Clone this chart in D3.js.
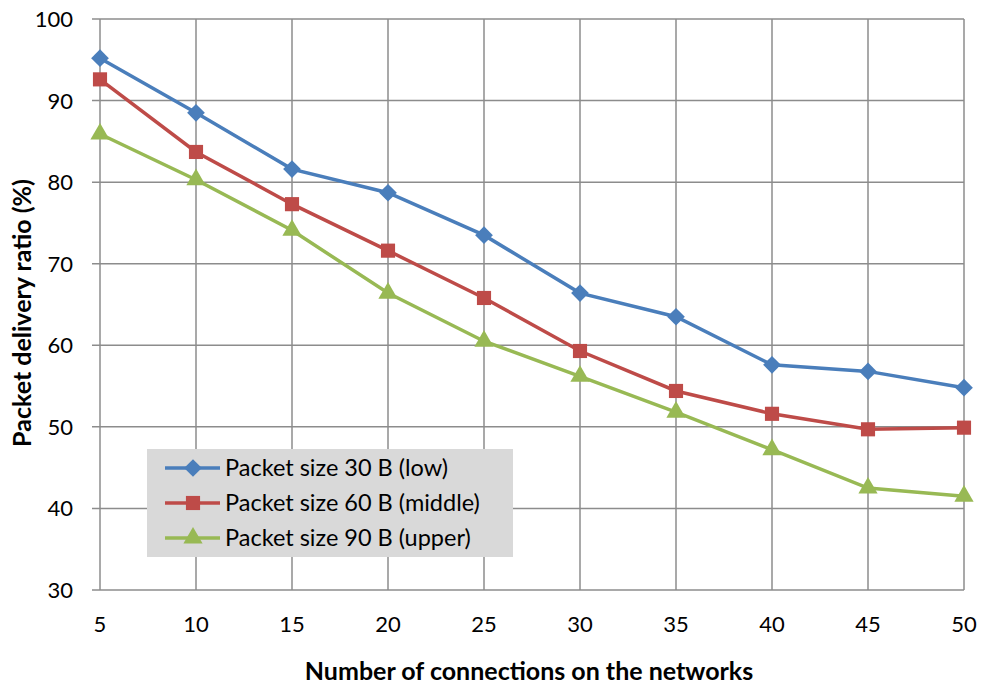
<!DOCTYPE html>
<html lang="en">
<head>
  <meta charset="UTF-8">
  <title>Packet delivery ratio</title>
  <style>
    body { margin: 0; background: #fff; }
    svg text { font-family: Lato, "Open Sans", sans-serif; fill: #000; }
  </style>
</head>
<body>
  <svg class="chart"></svg>
  <script src="https://cdn.jsdelivr.net/npm/d3@7"></script>
  <script>
    let connections = [5, 10, 15, 20, 25, 30, 35, 40, 45, 50]
    let lowValues = [95.2, 88.5, 81.6, 78.7, 73.5, 66.4, 63.5, 57.6, 56.8, 54.8]
    let middleValues = [92.6, 83.7, 77.3, 71.6, 65.8, 59.3, 54.4, 51.6, 49.7, 49.9]
    let upperValues = [85.9, 80.3, 74.1, 66.4, 60.5, 56.2, 51.8, 47.2, 42.5, 41.5]
    let yTicks = [30, 40, 50, 60, 70, 80, 90, 100]
    let seriesNames = ['Packet size 30 B (low)', 'Packet size 60 B (middle)', 'Packet size 90 B (upper)']

    let series = [
      { name: seriesNames[0], values: lowValues, color: '#4a7ebb', symbol: d3.symbolDiamond2 },
      { name: seriesNames[1], values: middleValues, color: '#be4b48', symbol: d3.symbolSquare },
      { name: seriesNames[2], values: upperValues, color: '#98b954', symbol: d3.symbolTriangle }
    ]

    let svgWidth = 981, svgHeight = 687
    let margin = { left: 100, right: 17, top: 19, bottom: 97 }

    let svg = d3.select('svg')
      .attr('width', svgWidth)
      .attr('height', svgHeight)

    let x = d3.scaleLinear().domain([5, 50]).range([margin.left, svgWidth - margin.right])
    let y = d3.scaleLinear().domain([30, 100]).range([svgHeight - margin.bottom, margin.top])

    // grid
    let grid = svg.append('g')
    grid.selectAll('.vg').data(connections).enter().append('line')
      .attr('x1', d => x(d)).attr('x2', d => x(d))
      .attr('y1', y(100)).attr('y2', y(30))
      .attr('stroke', '#8c8c8c').attr('stroke-width', 1.5)
    grid.selectAll('.hg').data(yTicks).enter().append('line')
      .attr('x1', x(5) - 8).attr('x2', x(50))
      .attr('y1', d => y(d)).attr('y2', d => y(d))
      .attr('stroke', '#8c8c8c').attr('stroke-width', 1.5)

    // tick labels
    svg.append('g').selectAll('text').data(yTicks).enter().append('text')
      .attr('x', x(5) - 27).attr('y', d => y(d) + 8)
      .attr('text-anchor', 'end').attr('font-size', 22)
      .text(d => d)
    svg.append('g').selectAll('text').data(connections).enter().append('text')
      .attr('x', d => x(d)).attr('y', y(30) + 42)
      .attr('text-anchor', 'middle').attr('font-size', 22)
      .text(d => d)

    // axis titles
    svg.append('text')
      .attr('x', 529).attr('y', 680)
      .attr('text-anchor', 'middle').attr('font-size', 25).attr('font-weight', 'bold')
      .text('Number of connections on the networks')
    svg.append('text')
      .attr('transform', 'translate(31,313) rotate(-90)')
      .attr('text-anchor', 'middle').attr('font-size', 25).attr('font-weight', 'bold')
      .text('Packet delivery ratio (%)')

    let line = d3.line().x((d, i) => x(connections[i])).y(d => y(d))

    series.forEach(s => {
      let g = svg.append('g')
      g.append('path')
        .attr('d', line(s.values))
        .attr('fill', 'none')
        .attr('stroke', s.color)
        .attr('stroke-width', 3.5)
      g.selectAll('path.m').data(s.values).enter().append('path')
        .attr('class', 'm')
        .attr('transform', (d, i) => `translate(${x(connections[i])},${y(d)})`)
        .attr('d', d3.symbol().type(s.symbol).size(s.symbol === d3.symbolTriangle ? 160 : 200))
        .attr('fill', s.color)
    })

    // legend
    let legend = svg.append('g').attr('transform', 'translate(147,449)')
    legend.append('rect').attr('width', 366).attr('height', 108).attr('fill', '#d9d9d9')
    let item = legend.selectAll('.item').data(series).enter().append('g')
      .attr('transform', (d, i) => `translate(0,${19 + i * 35})`)
    item.append('line')
      .attr('x1', 18).attr('x2', 73).attr('y1', 0).attr('y2', 0)
      .attr('stroke', d => d.color).attr('stroke-width', 3.5)
    item.append('path')
      .attr('transform', 'translate(46,0)')
      .attr('d', d => d3.symbol().type(d.symbol).size(d.symbol === d3.symbolTriangle ? 160 : 200)())
      .attr('fill', d => d.color)
    item.append('text')
      .attr('x', 78).attr('y', 8).attr('font-size', 23.5)
      .text(d => d.name)
  </script>
</body>
</html>
